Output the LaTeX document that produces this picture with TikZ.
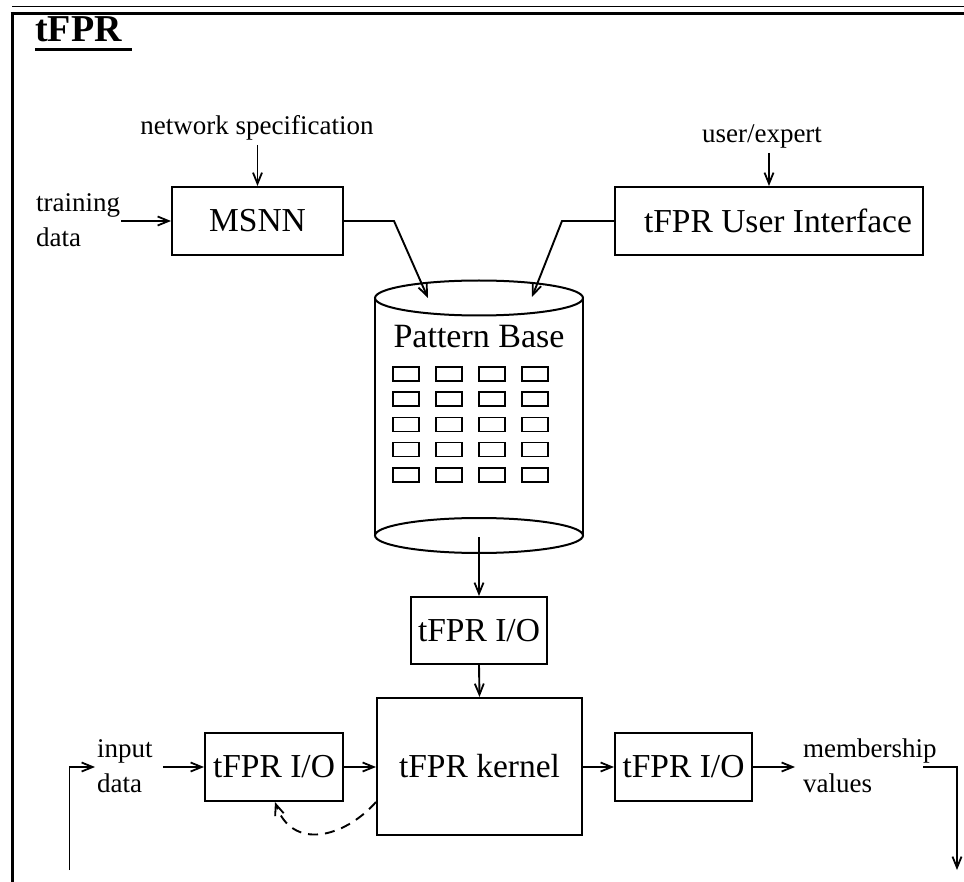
\documentclass[tikz,border=0pt]{standalone}
\usepackage{fontspec}
\setmainfont{Liberation Serif}
\usetikzlibrary{arrows.meta,calc}

\newcommand{\smallfont}{\fontsize{27}{35}\selectfont}
\newcommand{\bigfont}{\fontsize{33.5}{38}\selectfont}

\tikzset{
  every picture/.style={x=1pt,y=1pt},
  box/.style={draw, line width=2pt, inner sep=0pt, font=\bigfont},
  lbl/.style={inner sep=0pt, font=\smallfont, align=left},
  arr/.style={line width=1.9pt, -{Straight Barb[length=11pt,width=9pt,line width=1.8pt]}},
  cell/.style={line width=1.6pt},
  frame/.style={line width=3pt}
}

\begin{document}
\begin{tikzpicture}
\useasboundingbox (0,0) rectangle (964,-882);

% page frame: double rule on top, border on the left
\draw[line width=1.6pt] (12,-6.5) -- (964,-6.5);
\draw[frame] (10.5,-13.5) -- (964,-13.5);
\draw[frame] (12,-12) -- (12,-882);

% heading
\node[inner sep=0pt, anchor=base west, font=\fontsize{38}{40}\selectfont\bfseries] (title) at (35,-41.5) {tFPR};
\draw[frame] ([yshift=-8.5pt]title.base west) -- ([xshift=10pt,yshift=-8.5pt]title.base east);

% upper boxes
\node[box, minimum width=171pt, minimum height=68pt] (msnn) at (257.5,-221) {MSNN};
\node[box, minimum width=308pt, minimum height=68pt] (ui) at (769,-221) {\hspace*{18pt}tFPR User Interface};

% inputs to the upper boxes
\node[lbl, anchor=base] (netspec) at (257,-135) {network specification};
\node[lbl, anchor=base] (expert) at (762,-143) {user/expert};
\node[lbl, anchor=west] (train) at (36,-220) {training\\data};

\draw[arr] ([yshift=-4pt]netspec.south -| msnn.north) -- (msnn.north);
\draw[arr] ([yshift=-4pt]expert.south -| ui.north) -- (ui.north);
\draw[arr] ([xshift=1pt]train.east |- msnn.west) -- (msnn.west);

% pattern base cylinder
\draw[line width=2pt] (375,-298) -- (375,-535.5);
\draw[line width=2pt] (583,-298) -- (583,-535.5);
\draw[line width=2pt, fill=white] (479,-298) ellipse [x radius=104, y radius=17.5];
\draw[line width=2pt] (479,-535.5) ellipse [x radius=104, y radius=17.5];
\node[inner sep=0pt, anchor=base, font=\fontsize{34}{38}\selectfont] (pbtitle) at (479,-348) {Pattern Base};
\foreach \i in {0,...,3}{
  \foreach \j in {0,...,4}{
    \draw[cell] ({393+43*\i},{-367-25.2*\j}) rectangle ++(26,-14);
  }
}
\coordinate (pbinL) at (428,-298);
\coordinate (pbinR) at (532,-297);
\coordinate (pbout) at (479,-537);

\draw[arr] (msnn.east) -- ++(50,0) -- (pbinL);
\draw[arr] (ui.west) -- ++(-52,0) -- (pbinR);

% lower part
\node[box, minimum width=136pt, minimum height=67pt] (iotop) at (479,-630.5) {tFPR I/O};
\node[box, minimum width=205pt, minimum height=137pt] (kernel) at (479.5,-766.5) {tFPR kernel};
\node[box, minimum width=138pt, minimum height=68pt] (ioL) at (274,-767) {tFPR I/O};
\node[box, minimum width=137pt, minimum height=68pt] (ioR) at (683.5,-767) {tFPR I/O};

\node[lbl, anchor=west] (inlbl) at (97,-766) {input\\data};
\node[lbl, anchor=west] (memb) at (803,-766) {membership\\values};

\draw[arr] (pbout) -- (iotop.north);
\draw[arr] (iotop.south) -- (kernel.north);
\draw[arr] ([xshift=10pt]inlbl.east |- ioL.west) -- (ioL.west);
\draw[arr] (ioL.east) -- (kernel.west |- ioL.east);
\draw[arr] (kernel.east |- ioR.west) -- (ioR.west);
\draw[arr] (ioR.east) -- ([xshift=-8pt]memb.west |- ioR.east);

\coordinate (fbstart) at (69.5,-870);
\coordinate (outend) at (957,-870);
\draw[arr] (fbstart) |- ([xshift=-2pt]inlbl.west |- ioL.west);
\draw[arr] ([xshift=-13.5pt]memb.east |- ioR.east) -| (outend);

% feedback from the kernel
\draw[arr, dash pattern=on 10pt off 7pt] ([yshift=-35.5pt]kernel.west)
  .. controls ++(-32,-36) and ([xshift=18pt,yshift=-49pt]ioL.south) .. ([xshift=1pt]ioL.south);
\end{tikzpicture}
\end{document}
